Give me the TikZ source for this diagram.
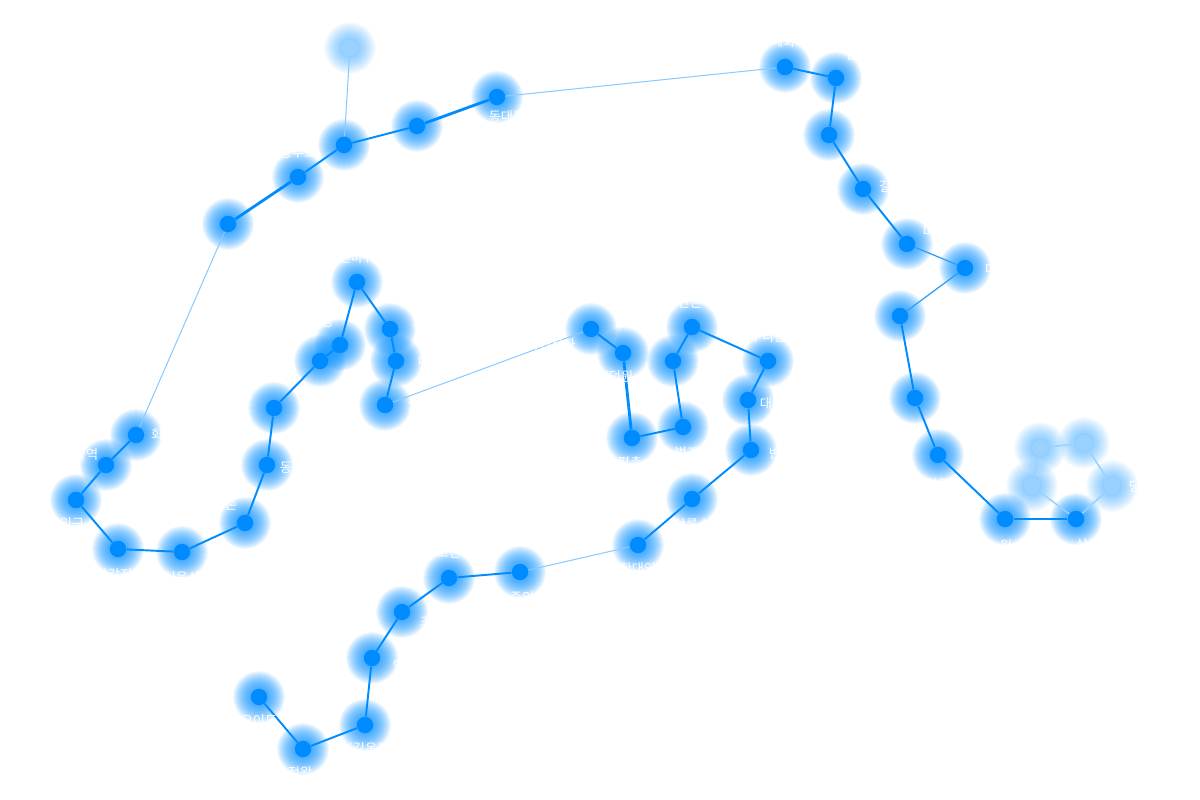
\documentclass[tikz,border=0pt]{standalone}
\usepackage{fontspec}
\newfontfamily\krfont{Noto Sans CJK KR}
\usepackage{tikz}
\usetikzlibrary{positioning}

\definecolor{lineblue}{RGB}{0,140,255}

\tikzset{
  stn/.style={circle, fill=lineblue, inner sep=0pt, minimum size=0.33cm},
  stnfaint/.style={circle, fill=lineblue!40, inner sep=0pt, minimum size=0.33cm},
  track/.style={draw=lineblue, line width=1.1pt},
  trackbold/.style={draw=lineblue, line width=1.6pt},
  trackthin/.style={draw=lineblue!85, line width=0.7pt},
  trackgap/.style={draw=lineblue!45, line width=0.6pt},
  trackfaint/.style={draw=lineblue!40, line width=0.9pt},
  lbl/.style={text=white, font=\krfont\fontsize{7.5}{9}\selectfont, inner sep=0pt}
}

\begin{document}
\begin{tikzpicture}[x=0.02cm, y=-0.02cm]
  \useasboundingbox (0,0) rectangle (1200,800);

  % Stations (glow + dot)
  \foreach \n/\x/\y in {oido/259/697, jeongwang/303/749, singil/365/725,
      ansan/372/658, choji/402/612, gojan/449/578, jungang/520/572,
      handae/638/545, sangnok/692/499, banwol/751/450, daeyami/748/400,
      surisan/768/361, sanbon/692/327, geumjeong/673/361, beomgye/683/427,
      pyeongchon/632/438, indeok/623/353, gwacheonsa/591/329,
      gwacheon/385/405, daegong/396/361, gyeongma/390/329, seonbawi/357/282,
      namtae/340/345, sadang/320/361, chongsin/274/408, dongjak/267/465,
      ichon/245/523, sinyong/182/552, samgak/118/549, sukdae/76/500,
      seoul/106/465, hoehyeon/136/435, myeong/228/224, chungmu/298/177,
      ddp/344/145, ddp2/417/126, dongdae/497/97, hyehwa/785/67,
      hansung/836/78, sungsin/829/135, gireum/863/189, miasa/907/244,
      mia/965/268, suyu/900/316, ssangmun/915/398, changdong/938/455,
      nowon/1005/519, sanggye/1076/519}{
    \foreach \r in {9,...,26}
      \fill[lineblue, opacity=0.065] (\x,\y) circle[radius=\r*0.567pt];
    \node[stn] (\n) at (\x,\y) {};
  }

  % Faint stations (branch and loop)
  \foreach \n/\x/\y in {branch/350/48, danggogae/1112/486, loopa/1084/443,
      loopb/1040/448, loopc/1032/486}{
    \foreach \r in {9,...,26}
      \fill[lineblue, opacity=0.03] (\x,\y) circle[radius=\r*0.567pt];
    \node[stnfaint] (\n) at (\x,\y) {};
  }

  % Main line
  \foreach \a/\b in {oido/jeongwang, jeongwang/singil, singil/ansan,
      ansan/choji, choji/gojan, gojan/jungang, handae/sangnok,
      sangnok/banwol, banwol/daeyami, daeyami/surisan, surisan/sanbon,
      sanbon/geumjeong, geumjeong/beomgye, beomgye/pyeongchon,
      indeok/gwacheonsa, gwacheon/daegong, daegong/gyeongma,
      gyeongma/seonbawi, seonbawi/namtae, namtae/sadang, sadang/chongsin,
      chongsin/dongjak, dongjak/ichon, ichon/sinyong, sinyong/samgak,
      samgak/sukdae, sukdae/seoul, seoul/hoehyeon, chungmu/ddp, ddp/ddp2,
      hyehwa/hansung, hansung/sungsin, sungsin/gireum, gireum/miasa,
      suyu/ssangmun, ssangmun/changdong, changdong/nowon}
    \draw[track] (\a) -- (\b);

  % Heavier and lighter segments
  \foreach \a/\b in {pyeongchon/indeok, myeong/chungmu, ddp2/dongdae,
      nowon/sanggye}
    \draw[trackbold] (\a) -- (\b);
  \foreach \a/\b in {miasa/mia, mia/suyu}
    \draw[trackthin] (\a) -- (\b);

  % Long gaps
  \foreach \a/\b in {jungang/handae, gwacheonsa/gwacheon, hoehyeon/myeong,
      dongdae/hyehwa, ddp/branch}
    \draw[trackgap] (\a) -- (\b);

  % Loop at the end
  \foreach \a/\b in {sanggye/danggogae, danggogae/loopa, loopa/loopb,
      loopb/loopc, loopc/sanggye}
    \draw[trackfaint] (\a) -- (\b);

  % Station names
  \foreach \n/\dx/\dy/\t in {oido/0/24/오이도, jeongwang/-3/24/정왕,
      singil/0/24/신길온천, ansan/33/7/안산, choji/30/10/초지,
      gojan/0/-26/고잔, jungang/2/26/중앙, handae/0/24/한대앞,
      sangnok/0/26/상록수, banwol/30/4/반월, daeyami/30/4/대야미,
      surisan/0/-24/수리산, sanbon/-2/-25/산본, geumjeong/35/4/금정,
      beomgye/4/26/범계, pyeongchon/-2/25/평촌, indeok/-8/24/인덕원,
      gwacheonsa/-52/16/정부과천청사, gwacheon/35/3/과천,
      daegong/40/1/대공원, gyeongma/46/-4/경마공원, seonbawi/0/-24/선바위,
      namtae/-25/-23/남태령, sadang/-45/-5/사당, chongsin/-58/0/총신대입구,
      dongjak/25/3/동작, ichon/-20/-18/이촌, sinyong/0/26/신용산,
      samgak/-4/26/삼각지, sukdae/-16/24/숙대입구, seoul/-26/-10/서울역,
      hoehyeon/27/0/회현, myeong/-45/0/명동, chungmu/0/-24/충무로,
      ddp/-95/-14/동대문역사문화공원, dongdae/10/20/동대문,
      hyehwa/-2/-25/혜화, hansung/40/-23/한성대입구,
      sungsin/60/3/성신여대입구, gireum/28/-2/길음, miasa/46/-12/미아사거리,
      mia/32/2/미아, suyu/-42/0/수유, ssangmun/30/-18/쌍문,
      changdong/0/30/창동, nowon/-5/26/노원, sanggye/12/26/상계,
      danggogae/35/1/당고개}
    \node[lbl] (lab-\n) at ([shift={(\dx,\dy)}]\n) {\t};
\end{tikzpicture}
\end{document}
